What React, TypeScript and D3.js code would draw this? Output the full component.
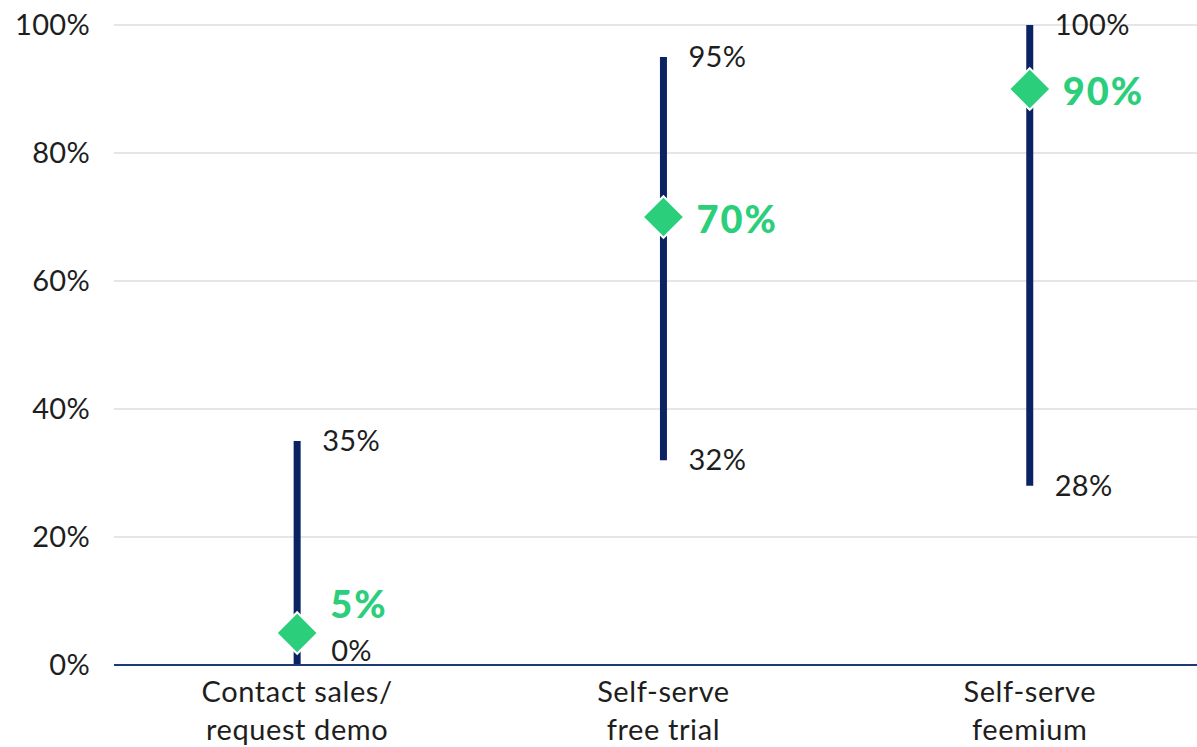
import { useEffect } from "react";
import * as d3 from "d3";

const categories = [["Contact sales/", "request demo"], ["Self-serve", "free trial"], ["Self-serve", "feemium"]];
const lowValues = [0, 32, 28];
const highValues = [35, 95, 100];
const midValues = [5, 70, 90];
const yTicks = [0, 20, 40, 60, 80, 100];

const width = 1197;
const height = 747;
const left = 114;
const top = 25;
const bottom = 665;

const navy = "#0b2263";
const green = "#2bcf7b";
const font = "Lato, 'Noto Sans', sans-serif";

export default function App() {
  useEffect(() => {
    document.body.style.margin = "0";
  }, []);

  const keys = categories.map((c) => c.join(" "));
  const x = d3.scaleBand<string>().domain(keys).range([left, left + 3 * 366.3]);
  const y = d3.scaleLinear().domain([0, 100]).range([bottom, top]);
  const cx = (i: number) => (x(keys[i]) ?? 0) + x.bandwidth() / 2;

  const diamond = d3.symbol().type(d3.symbolDiamond2).size(1100)();

  return (
    <svg width={width} height={height} style={{ display: "block", fontFamily: font }}>
      {yTicks.slice(1).map((t) => (
        <line key={t} x1={left} x2={width} y1={y(t)} y2={y(t)} stroke="#dedede" strokeWidth={1.5} />
      ))}
      {yTicks.map((t) => (
        <text key={t} x={90} y={y(t)} dy="0.35em" textAnchor="end" fontSize={29} letterSpacing={0.3} fill="#1e1e1e">
          {t}%
        </text>
      ))}
      {keys.map((k, i) => {
        const lowY = Math.min(y(lowValues[i]), bottom - 14);
        const midY = Math.abs(midValues[i] - lowValues[i]) < 10 ? y(midValues[i]) - 28 : y(midValues[i]) + 3;
        return (
          <g key={k}>
            <line x1={cx(i)} x2={cx(i)} y1={y(lowValues[i])} y2={y(highValues[i])} stroke={navy} strokeWidth={7} />
            <text x={cx(i) + 25} y={y(highValues[i])} dy="0.35em" fontSize={29} letterSpacing={0.3} fill="#1e1e1e">
              {highValues[i]}%
            </text>
            <text x={cx(i) + (lowValues[i] === 0 ? 34 : 25)} y={lowY} dy="0.35em" fontSize={29} letterSpacing={0.3} fill="#1e1e1e">
              {lowValues[i]}%
            </text>
            <path d={diamond ?? ""} transform={`translate(${cx(i)},${y(midValues[i])})`} fill={green} stroke="#fff" strokeWidth={2} />
            <text x={cx(i) + 33} y={midY} dy="0.35em" fontSize={38} fontWeight={900} letterSpacing={2} fill={green}>
              {midValues[i]}%
            </text>
            {categories[i].map((line, j) => (
              <text key={j} x={cx(i)} y={692 + j * 38} dy="0.35em" textAnchor="middle" fontSize={29} letterSpacing={0.6} fill="#1e1e1e">
                {line}
              </text>
            ))}
          </g>
        );
      })}
      <line x1={left} x2={width} y1={bottom} y2={bottom} stroke="#1d3a78" strokeWidth={2} />
    </svg>
  );
}
